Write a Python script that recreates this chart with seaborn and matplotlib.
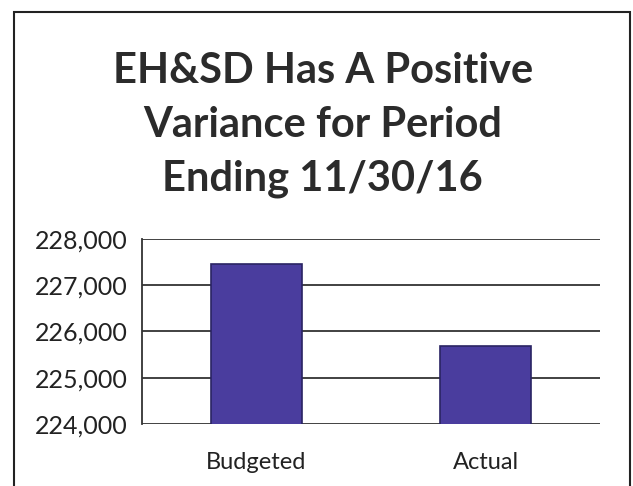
import matplotlib
matplotlib.use("Agg")
import matplotlib.pyplot as plt
import seaborn as sns
from matplotlib.ticker import FuncFormatter
from matplotlib.patches import Rectangle

## values
categories = ["Budgeted", "Actual"]
amounts = [227460, 225690]
yticks = [224000, 225000, 226000, 227000, 228000]
title_lines = ["EH&SD Has A Positive", "Variance for Period", "Ending 11/30/16"]

sns.set_theme(style="white")
plt.rcParams["font.family"] = ["Lato", "DejaVu Sans"]

fig = plt.figure(figsize=(6.33, 4.86), dpi=100)
ax = fig.add_axes([0.224, 0.128, 0.724, 0.380])

sns.barplot(x=categories, y=amounts, ax=ax, color="#4a3d9e", saturation=1, width=0.4,
            edgecolor="#2a2463", linewidth=1.2, zorder=3)

ax.set_ylim(yticks[0], yticks[-1])
ax.set_yticks(yticks)
ax.yaxis.set_major_formatter(FuncFormatter(lambda v, p: f"{int(v):,}"))
for y in yticks:
    ax.axhline(y, color="#333333", linewidth=1.3, zorder=1)

for s in ["top", "right", "bottom"]:
    ax.spines[s].set_visible(False)
ax.spines["left"].set_color("#333333")
ax.spines["left"].set_linewidth(1.3)
ax.tick_params(axis="y", labelsize=18, colors="#222222", length=0, pad=10)
ax.tick_params(axis="x", labelsize=17, colors="#222222", length=0, pad=20)
ax.set_xlabel("")
ax.set_ylabel("")

fig.text(0.51, 0.743, "\n".join(title_lines), ha="center", va="center",
         fontsize=30, fontweight="bold", color="#2b2b2b", linespacing=1.5)

## frame around the chart
fig.patches.append(Rectangle((0.022, -0.05), 0.973, 1.025, transform=fig.transFigure,
                             fill=False, edgecolor="#222222", linewidth=1.5))

fig.savefig("out.png", dpi=100)
